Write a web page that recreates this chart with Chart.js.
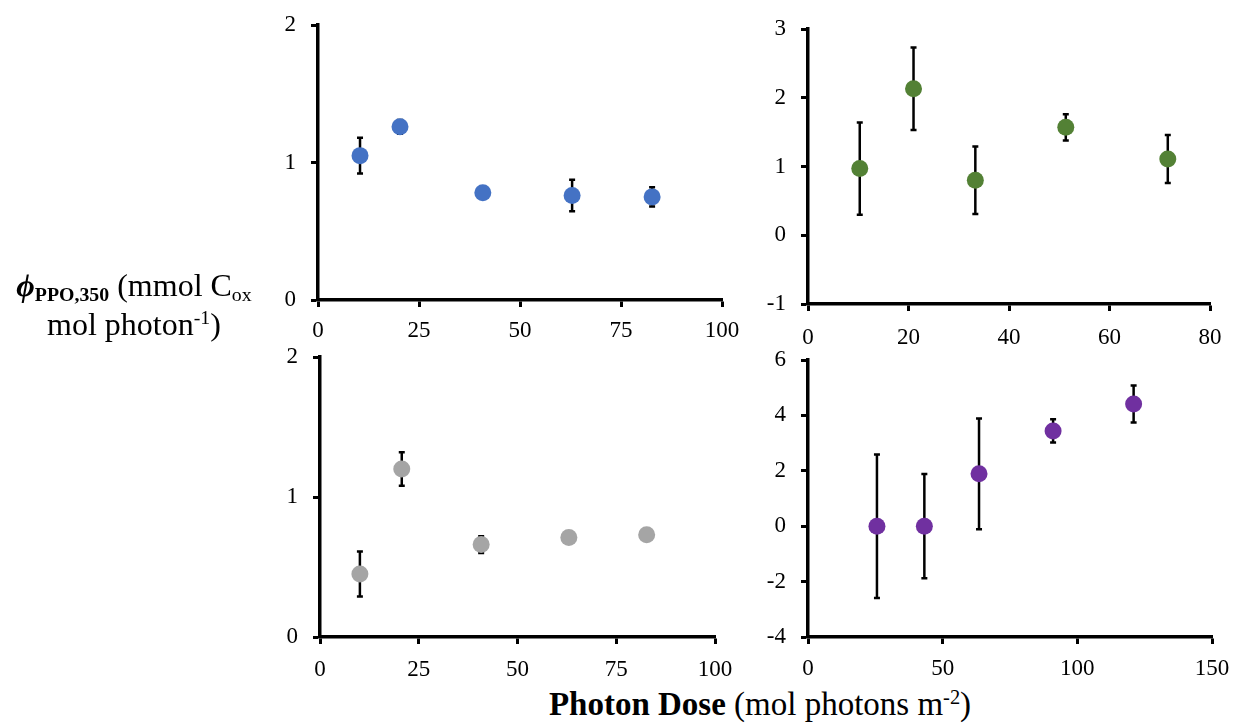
<!DOCTYPE html>
<html>
<head>
<meta charset="utf-8">
<script src="https://cdn.jsdelivr.net/npm/chart.js@4.4.1/dist/chart.umd.min.js"></script>
<style>
body{margin:0;background:#fff;width:1236px;height:726px;position:relative;overflow:hidden;font-family:"Liberation Serif","Times New Roman",serif;color:#000;}
.panel{position:absolute;}
#ylab{position:absolute;left:0;top:266px;width:268px;text-align:center;font-size:32px;line-height:39px;white-space:nowrap;}
#ylab .phi{font-weight:bold;font-style:italic;}
#ylab sub{font-size:0.62em;vertical-align:-0.25em;line-height:0;}
#ylab sub.b{font-weight:bold;}
#ylab sup,#xlab sup{font-size:0.62em;vertical-align:0.55em;line-height:0;}
#xlab{position:absolute;left:460px;top:685px;width:600px;text-align:center;font-size:33px;line-height:38px;white-space:nowrap;}
</style>
</head>
<body>
<div class="panel" style="left:250px;top:0px;width:500px;height:345px;"><canvas id="c1"></canvas></div>
<div class="panel" style="left:750px;top:0px;width:486px;height:345px;"><canvas id="c2"></canvas></div>
<div class="panel" style="left:250px;top:340px;width:500px;height:345px;"><canvas id="c3"></canvas></div>
<div class="panel" style="left:750px;top:340px;width:486px;height:345px;"><canvas id="c4"></canvas></div>
<div id="ylab"><span class="phi">ϕ</span><sub class="b">PPO,350</sub> (mmol C<sub>ox</sub><br>mol photon<sup>-1</sup>)</div>
<div id="xlab"><b>Photon Dose</b> (mol photons m<sup>-2</sup>)</div>
<script>
// panel data
var blueDose = [10.4, 20.3, 40.8, 62.9, 82.7];
var blueValue = [1.05, 1.26, 0.78, 0.76, 0.75];
var blueError = [0.13, 0.05, 0.01, 0.115, 0.07];

var greenDose = [10.3, 21.0, 33.3, 51.3, 71.6];
var greenValue = [0.97, 2.13, 0.80, 1.57, 1.11];
var greenError = [0.67, 0.60, 0.49, 0.19, 0.35];

var grayDose = [10.1, 20.7, 40.8, 63.0, 82.7];
var grayValue = [0.45, 1.20, 0.66, 0.71, 0.73];
var grayError = [0.16, 0.12, 0.06, 0.01, 0.01];

var purpleDose = [25.6, 43.2, 63.5, 91.0, 120.9];
var purpleValue = [0, 0, 1.89, 3.44, 4.41];
var purpleError = [2.59, 1.88, 2.0, 0.42, 0.67];

// axis ranges [min, max, step]
var blueX = [0, 100, 25], blueY = [0, 2, 1];
var greenX = [0, 80, 20], greenY = [-1, 3, 1];
var grayX = [0, 100, 25], grayY = [0, 2, 1];
var purpleX = [0, 150, 50], purpleY = [-4, 6, 2];

var errorBars = {
	id: 'errorBars',
	beforeDatasetsDraw: function(chart){
		var ctx = chart.ctx;
		var xs = chart.scales.x, ys = chart.scales.y;
		var ds = chart.data.datasets[0];
		ctx.save();
		ctx.strokeStyle = '#000';
		ctx.lineWidth = 2.5;
		ds.data.forEach(function(p, i){
			var e = ds.errors[i];
			if(!e) return;
			var x = xs.getPixelForValue(p.x);
			var top = ys.getPixelForValue(p.y + e);
			var bot = ys.getPixelForValue(p.y - e);
			ctx.beginPath();
			ctx.moveTo(x, top); ctx.lineTo(x, bot);
			ctx.moveTo(x - 3, top); ctx.lineTo(x + 3, top);
			ctx.moveTo(x - 3, bot); ctx.lineTo(x + 3, bot);
			ctx.stroke();
		});
		ctx.restore();
	}
};

function axis(range, pad, fitFn){
	return {
		type: 'linear',
		min: range[0],
		max: range[1],
		border: { color: '#000', width: 3.5 },
		grid: { drawOnChartArea: false, drawTicks: true, tickLength: 7, tickWidth: 3, tickColor: '#000' },
		ticks: {
			stepSize: range[2],
			color: '#000',
			font: { family: '"Liberation Serif", "Times New Roman", serif', size: 23 },
			padding: pad,
			callback: function(v){ return String(v); }
		},
		afterFit: function(s){
			// let layout padding alone decide where the plot area sits
			s.paddingTop = 0; s.paddingBottom = 0; s.paddingLeft = 0; s.paddingRight = 0;
			fitFn(s);
		}
	};
}

function panel(id, dose, value, err, color, xr, yr, box){
	var pts = dose.map(function(d, i){ return { x: d, y: value[i] }; });
	new Chart(document.getElementById(id), {
		type: 'scatter',
		data: {
			datasets: [{
				data: pts,
				errors: err,
				backgroundColor: color,
				borderWidth: 0,
				pointRadius: 8.5,
				pointHoverRadius: 8.5
			}]
		},
		options: {
			responsive: true,
			maintainAspectRatio: false,
			animation: false,
			layout: { padding: { top: box.top, right: box.right, left: 0, bottom: 0 } },
			plugins: { legend: { display: false }, tooltip: { enabled: false } },
			scales: {
				x: axis(xr, box.xpad, function(s){ s.height = box.xh; }),
				y: axis(yr, 15, function(s){ s.width = box.yw; })
			}
		},
		plugins: [errorBars]
	});
}

panel('c1', blueDose, blueValue, blueError, '#4472C4', blueX, blueY, { top: 25, right: 28, xh: 45, yw: 68, xpad: 10 });
panel('c2', greenDose, greenValue, greenError, '#538135', greenX, greenY, { top: 29, right: 26, xh: 41, yw: 58, xpad: 13 });
panel('c3', grayDose, grayValue, grayError, '#A5A5A5', grayX, grayY, { top: 17, right: 35, xh: 48, yw: 70, xpad: 12 });
panel('c4', purpleDose, purpleValue, purpleError, '#7030A0', purpleX, purpleY, { top: 20, right: 24, xh: 48, yw: 58, xpad: 11 });
</script>
</body>
</html>
